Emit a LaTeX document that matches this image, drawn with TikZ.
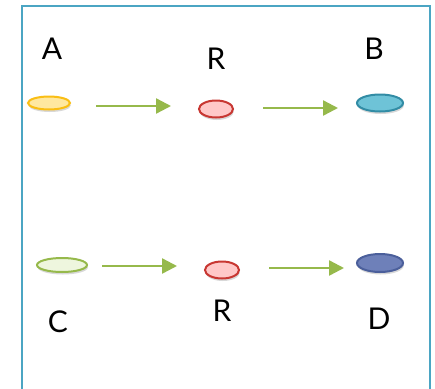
\documentclass[tikz,border=0pt]{standalone}
\usepackage{fontspec}
\setmainfont{Lato}
\usetikzlibrary{shapes.geometric,shadows,arrows.meta}

\definecolor{frame}{RGB}{75,165,195}
\definecolor{arrowgreen}{RGB}{150,185,75}

\tikzset{
  blob/.style={ellipse, draw, line width=2pt, inner sep=0pt,
    drop shadow={opacity=0.3, shadow xshift=0.8pt, shadow yshift=-2.5pt}},
  tag/.style={font=\fontsize{30}{30}\selectfont, inner sep=0pt},
  flow/.style={draw=arrowgreen, line width=2.4pt, -{Triangle[length=15pt,width=15pt]}}
}

\begin{document}
\begin{tikzpicture}[x=1pt,y=-1pt]
		\useasboundingbox (0,0) rectangle (435,388);
		\clip (0,0) rectangle (435,388);
		\draw [frame, line width=2.2pt, fill=white] (22,6) rectangle (430,400);
		% first row
		\node (a)  [blob, draw={rgb,255:red,250;green,190;blue,20}, fill={rgb,255:red,255;green,232;blue,160}, minimum width=42pt, minimum height=13pt] at (49,103) {};
		\node (r1) [blob, draw={rgb,255:red,200;green,55;blue,50}, fill={rgb,255:red,255;green,200;blue,200}, minimum width=34pt, minimum height=17pt] at (216,109) {};
		\node (b)  [blob, draw={rgb,255:red,50;green,140;blue,165}, fill={rgb,255:red,110;green,195;blue,215}, minimum width=46pt, minimum height=17pt] at (380,103) {};
		% second row
		\node (c)  [blob, draw={rgb,255:red,150;green,185;blue,75}, fill={rgb,255:red,238;green,246;blue,222}, minimum width=50pt, minimum height=14pt] at (62,265) {};
		\node (r2) [blob, draw={rgb,255:red,200;green,55;blue,50}, fill={rgb,255:red,255;green,200;blue,200}, minimum width=34pt, minimum height=17pt] at (222,270) {};
		\node (d)  [blob, draw={rgb,255:red,75;green,95;blue,155}, fill={rgb,255:red,110;green,128;blue,185}, minimum width=46pt, minimum height=18pt] at (380,263) {};
		% letters
		\node (la)  [tag] at (52,49) {A};
		\node (lr1) [tag] at (216,59) {R};
		\node (lb)  [tag] at (374,49) {B};
		\node (lc)  [tag] at (58,322) {C};
		\node (lr2) [tag] at (222,311) {R};
		\node (ld)  [tag] at (379,319) {D};
		% arrows
		\coordinate (s1) at (96,106);  \coordinate (e1) at (171,106);
		\coordinate (s2) at (263,108); \coordinate (e2) at (338,108);
		\coordinate (s3) at (102,266); \coordinate (e3) at (177,266);
		\coordinate (s4) at (269,268); \coordinate (e4) at (344,268);
		\draw [flow] (s1) -- (e1);
		\draw [flow] (s2) -- (e2);
		\draw [flow] (s3) -- (e3);
		\draw [flow] (s4) -- (e4);
		\end{tikzpicture}
\end{document}
